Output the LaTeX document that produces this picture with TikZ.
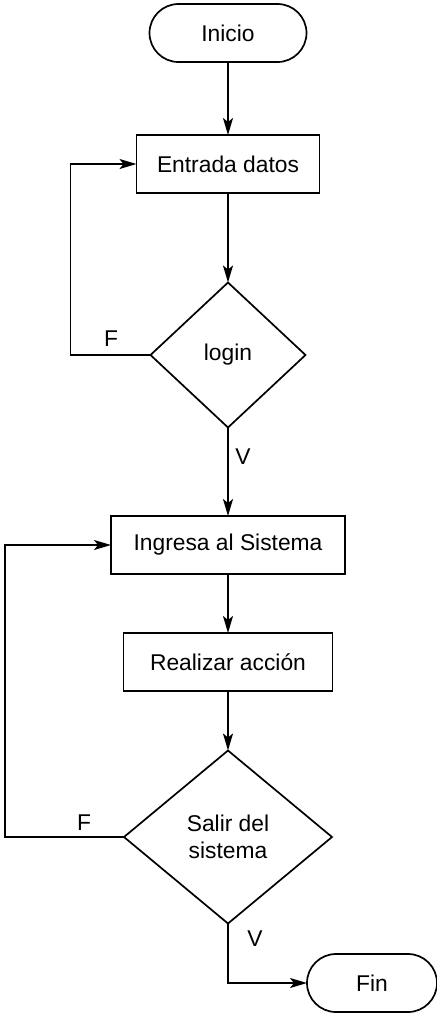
\documentclass[tikz,border=0pt]{standalone}
\usepackage{fontspec}
\setmainfont{Liberation Sans}
\usepackage{tikz}
\usetikzlibrary{arrows.meta, positioning, shapes.geometric, shapes.misc}

\begin{document}
\begin{tikzpicture}[x=0.5pt, y=-0.5pt,
    every node/.style={font=\fontsize{11.4}{13.5}\selectfont},
    every path/.style={line width=0.85pt},
    terminal/.style={draw, rounded rectangle, minimum height=29pt, inner sep=0pt, outer sep=0pt},
    proc/.style={draw, rectangle, minimum height=29pt, inner sep=0pt, outer sep=0pt},
    decision/.style={draw, diamond, aspect=1, inner sep=0pt, outer sep=0pt, align=center},
    flow/.style={-{Stealth[length=8.5pt, width=5pt, inset=2pt]}}]
  \useasboundingbox (0,0) rectangle (437,1014);
  % main chain
  \node[terminal, minimum width=78.5pt] (inicio) at (228,33) {Inicio};
  \node[proc, minimum width=91.5pt] (entrada) at (228,164) {Entrada datos};
  \node[decision, minimum width=77.5pt, minimum height=72.5pt] (login) at (228,355) {login};
  \node[proc, minimum width=117pt] (ingresa) at (228,545) {Ingresa al Sistema};
  \node[proc, minimum width=104.5pt] (accion) at (228,662) {Realizar acción};
  \node[decision, minimum width=104pt, minimum height=86.5pt] (salir) at (228,837) {Salir del\\sistema};
  \node[terminal, minimum width=65pt] (fin) at (372,983) {Fin};

  \draw[flow] (inicio) -- (entrada);
  \draw[flow] (entrada) -- (login);
  \draw[flow] (login) -- (ingresa);
  \draw[flow] (ingresa) -- (accion);
  \draw[flow] (accion) -- (salir);

  % loops back
  \draw[flow] (login.west) -- ++(-80,0) |- (entrada.west);
  \draw[flow] (salir.west) -- ++(-119,0) |- (ingresa.west);
  \draw[flow] (salir.south) |- (fin.west);

  % labels
  \node (fA) at (111,339) {F};
  \node (vA) at (243,457) {V};
  \node (fB) at (84,823) {F};
  \node (vB) at (255,939) {V};
\end{tikzpicture}
\end{document}
